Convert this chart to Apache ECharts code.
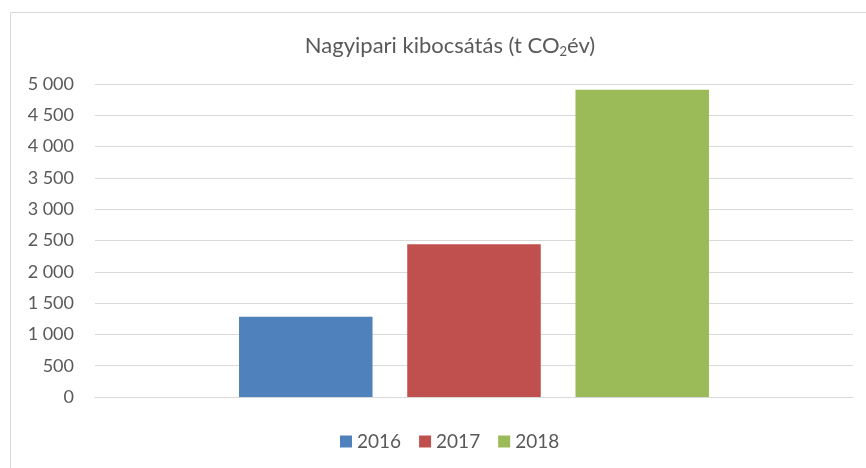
<!DOCTYPE html>
<html>
<head>
<meta charset="utf-8">
<script src="https://cdn.jsdelivr.net/npm/echarts@6/dist/echarts.min.js"></script>
<style>
  html, body { margin: 0; padding: 0; background: #fff; }
  #main { width: 866px; height: 468px; }
</style>
</head>
<body>
<div id="main"></div>
<script>
// data
const years = ['2016', '2017', '2018'];
const values = [1280, 2440, 4910];
const colors = ['#4F81BD', '#C0504D', '#9BBB59'];

const font = 'Lato, "Liberation Sans", sans-serif';
const textColor = '#595959';

const myChart = echarts.init(document.getElementById('main'), null, { renderer: 'canvas' });

// thousands with a space, like the Hungarian Excel labels
function fmt(v) {
    return String(v).replace(/\B(?=(\d{3})+(?!\d))/g, ' ');
}

const series = years.map((y, i) => ({
    name: y,
    type: 'bar',
    data: [values[i]],
    barGap: '26%',
    barCategoryGap: '38%',
    itemStyle: { color: colors[i] }
}));

const option = {
    animation: false,
    graphic: [{
        type: 'rect',
        shape: { x: 10.5, y: 12.5, width: 900, height: 500 },
        style: { fill: 'none', stroke: '#D9D9D9', lineWidth: 1 },
        silent: true
    }],
    title: {
        text: '{a|Nagyipari kibocsátás (t CO}{s|2}{a|év)}',
        left: 445,
        textAlign: 'center',
        top: 28,
        textStyle: {
            rich: {
                a: { fontFamily: font, fontSize: 22, fontWeight: 'normal', color: textColor },
                s: { fontFamily: font, fontSize: 13, fontWeight: 'normal', color: textColor, padding: [12, 0, 0, 0] }
            }
        }
    },
    legend: {
        data: years,
        bottom: 17,
        left: 340,
        padding: 0,
        itemWidth: 12,
        itemHeight: 12,
        itemGap: 18,
        icon: 'rect',
        textStyle: { fontFamily: font, fontSize: 19, color: textColor }
    },
    grid: { left: 95, right: 13, top: 84, bottom: 71, containLabel: false },
    xAxis: {
        type: 'category',
        data: [''],
        axisLine: { show: true, lineStyle: { color: '#D9D9D9', width: 1 } },
        axisTick: { show: false },
        axisLabel: { show: false }
    },
    yAxis: {
        type: 'value',
        min: 0,
        max: 5000,
        interval: 500,
        axisLine: { show: false },
        axisTick: { show: false },
        axisLabel: {
            formatter: fmt,
            fontFamily: font,
            fontSize: 18,
            color: textColor,
            margin: 21
        },
        splitLine: { lineStyle: { color: '#D9D9D9', width: 1 } }
    },
    series: series
};

myChart.setOption(option);
window.addEventListener('resize', function () {
    myChart.resize();
});
</script>
</body>
</html>
